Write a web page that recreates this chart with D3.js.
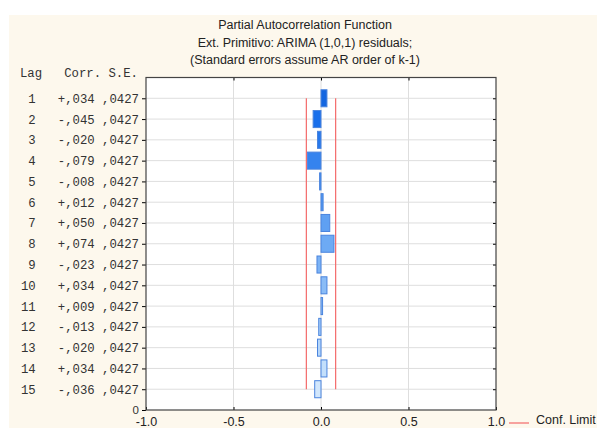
<!DOCTYPE html>
<html>
<head>
<meta charset="utf-8">
<script src="https://cdn.jsdelivr.net/npm/d3@7"></script>
<style>
  body { margin: 0; background: #ffffff; }
  svg { display: block; }
</style>
</head>
<body>
<div id="chart"></div>
<script>
const lags = [1, 2, 3, 4, 5, 6, 7, 8, 9, 10, 11, 12, 13, 14, 15];
const corr = [0.034, -0.045, -0.020, -0.079, -0.008, 0.012, 0.050, 0.074, -0.023, 0.034, 0.009, -0.013, -0.020, 0.034, -0.036];
const std_err = [0.0427, 0.0427, 0.0427, 0.0427, 0.0427, 0.0427, 0.0427, 0.0427, 0.0427, 0.0427, 0.0427, 0.0427, 0.0427, 0.0427, 0.0427];
const x_ticks = [-1.0, -0.5, 0.0, 0.5, 1.0];
const titles = ['Partial Autocorrelation Function', 'Ext. Primitivo: ARIMA (1,0,1) residuals;', '(Standard errors assume AR order of k-1)'];

(function() {
    const width = 597, height = 428;
    const margins = {top: 77.5, right: 101, bottom: 18, left: 146};
    const plot_w = width - margins.left - margins.right,
        plot_h = height - margins.top - margins.bottom;

    const rows = lags.map((lag, i) => ({lag: lag, value: corr[i], se: std_err[i]}));

    let svg = d3.select('#chart').append('svg')
        .attr('width', width)
        .attr('height', height)
        .attr('font-family', 'Liberation Sans, Arial, sans-serif');

    svg.append('rect')
        .attr('x', 9).attr('y', 15)
        .attr('width', width - 9).attr('height', height - 15)
        .attr('fill', '#fdf8ed');

    let x = d3.scaleLinear().domain([-1, 1]).range([0, plot_w]);
    // lag 1 at the top, lag 15 at the bottom, then the 0 row on the axis
    let row_h = plot_h / 16;
    let y = d3.scalePoint().domain(lags.concat([0])).range([row_h, plot_h]);

    // colour goes from dark blue at lag 1 to pale blue at last lag
    let fill = d3.scaleLinear()
        .domain([1, lags.length])
        .range(['#1466e0', '#d2e7fc'])
        .interpolate(d3.interpolateHsl);

    let tl = svg.append('g')
        .attr('font-size', 12.5)
        .attr('fill', '#222')
        .attr('text-anchor', 'middle');
    titles.forEach(function(t, i) {
        tl.append('text')
            .attr('x', 305)
            .attr('y', 29 + i * 17.5)
            .text(t);
    });

    let g = svg.append('g')
        .attr('transform', 'translate(' + margins.left + ',' + margins.top + ')');

    g.append('rect')
        .attr('width', plot_w).attr('height', plot_h)
        .attr('fill', '#ffffff');

    // grid
    g.append('g').selectAll('line')
        .data(x_ticks.slice(1, -1))
        .enter().append('line')
        .attr('x1', (d) => x(d)).attr('x2', (d) => x(d))
        .attr('y1', 0).attr('y2', plot_h)
        .attr('stroke', '#dedede');
    g.append('g').selectAll('line')
        .data(lags)
        .enter().append('line')
        .attr('x1', 0).attr('x2', plot_w)
        .attr('y1', (d) => y(d)).attr('y2', (d) => y(d))
        .attr('stroke', '#dedede');

    // bars
    g.append('g').selectAll('rect')
        .data(rows)
        .enter().append('rect')
        .attr('x', (d) => x(Math.min(0, d.value)))
        .attr('y', (d) => y(d.lag) - row_h * 0.41)
        .attr('width', (d) => Math.abs(x(d.value) - x(0)))
        .attr('height', row_h * 0.82)
        .attr('fill', (d) => fill(d.lag))
        .attr('stroke', '#4a84de')
        .attr('stroke-width', 1);

    // confidence limits
    let conf = g.append('g')
        .attr('stroke', '#f46a6a')
        .attr('stroke-width', 1.2);
    [-1, 1].forEach(function(s) {
        conf.append('line')
            .attr('x1', x(s * 1.96 * std_err[0])).attr('x2', x(s * 1.96 * std_err[0]))
            .attr('y1', y(lags[0])).attr('y2', y(lags[lags.length - 1]));
    });

    // axes
    let xa = g.append('g')
        .attr('transform', 'translate(0,' + plot_h + ')')
        .call(d3.axisBottom(x).tickValues(x_ticks).tickFormat(d3.format('.1f')).tickSizeInner(-3).tickSizeOuter(0));
    xa.selectAll('text')
        .attr('font-size', 12.5)
        .attr('fill', '#222')
        .attr('y', 7)
        .attr('dy', '0.71em')
        .text((d) => d3.format('.1f')(d).replace('−', '-'));
    xa.select('.domain').remove();

    let ya = g.append('g')
        .call(d3.axisLeft(y).tickSizeInner(4).tickSizeOuter(0)
            .tickFormat(function(d) {
                if (d === 0) return '0';
                let r = rows[d - 1];
                let c = (r.value >= 0 ? '+' : '-') + d3.format('.3f')(Math.abs(r.value)).replace('0.', ',');
                let se = d3.format('.4f')(r.se).replace('0.', ',');
                return String(r.lag).padStart(2, ' ') + '   ' + c + ' ' + se;
            }));
    ya.selectAll('text')
        .attr('font-family', 'Liberation Mono, Courier New, monospace')
        .attr('font-size', 12.3)
        .attr('fill', '#333')
        .attr('x', -7)
        .style('white-space', 'pre');
    ya.selectAll('.tick')
        .filter((d) => d === 0)
        .select('text')
        .attr('font-family', 'Liberation Sans, Arial, sans-serif')
        .attr('font-size', 11.5);
    ya.select('.domain').remove();

    g.append('text')
        .attr('x', -8)
        .attr('y', -1)
        .attr('text-anchor', 'end')
        .attr('font-family', 'Liberation Mono, Courier New, monospace')
        .attr('font-size', 12.3)
        .attr('fill', '#333')
        .style('white-space', 'pre')
        .text('Lag   Corr. S.E.');

    g.append('g')
        .attr('transform', 'translate(' + plot_w + ',0)')
        .call(d3.axisRight(y).tickValues(lags).tickSizeInner(-3).tickSizeOuter(0).tickFormat(''))
        .select('.domain').remove();
    g.append('g')
        .call(d3.axisTop(x).tickValues(x_ticks.slice(1, -1)).tickSizeInner(-3).tickSizeOuter(0).tickFormat(''))
        .select('.domain').remove();

    g.append('rect')
        .attr('width', plot_w).attr('height', plot_h)
        .attr('fill', 'none')
        .attr('stroke', '#444')
        .attr('stroke-width', 1.2);

    // legend
    let lg = svg.append('g')
        .attr('transform', 'translate(' + (margins.left + plot_w + 13) + ',' + (height - 5) + ')');
    lg.append('line')
        .attr('x1', 0).attr('x2', 20)
        .attr('y1', 0).attr('y2', 0)
        .attr('stroke', '#f46a6a')
        .attr('stroke-width', 1.2);
    lg.append('text')
        .attr('x', 27)
        .attr('y', 0)
        .attr('dy', '0.1em')
        .attr('font-size', 12.5)
        .attr('fill', '#222')
        .text('Conf. Limit');
}());
</script>
</body>
</html>
